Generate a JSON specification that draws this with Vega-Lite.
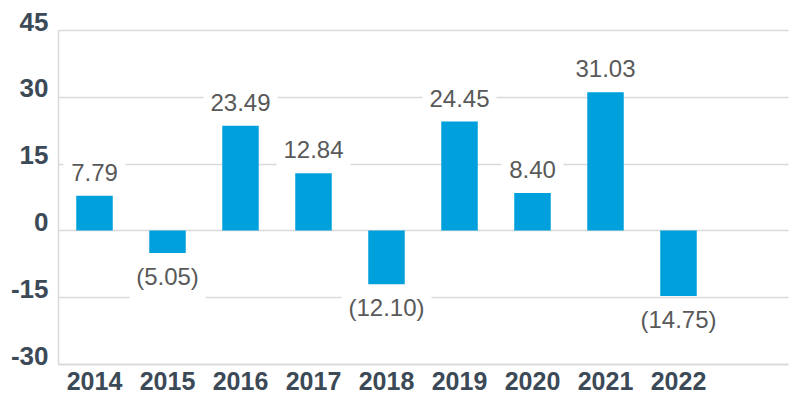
{
  "$schema": "https://vega.github.io/schema/vega-lite/v6.json",
  "autosize": "none",
  "width": 730,
  "height": 334,
  "padding": {"left": 58, "top": 30, "right": 12, "bottom": 36},
  "background": "white",
  "config": {"view": {"stroke": null}},
  "data": {
    "values": [
      {"year": "2014", "value": 7.79},
      {"year": "2015", "value": -5.05},
      {"year": "2016", "value": 23.49},
      {"year": "2017", "value": 12.84},
      {"year": "2018", "value": -12.10},
      {"year": "2019", "value": 24.45},
      {"year": "2020", "value": 8.40},
      {"year": "2021", "value": 31.03},
      {"year": "2022", "value": -14.75}
    ]
  },
  "transform": [
    {"calculate": "datum.value < 0 ? '(' + format(-datum.value, '.2f') + ')' : format(datum.value, '.2f')", "as": "label"}
  ],
  "encoding": {
    "x": {
      "field": "year",
      "type": "nominal",
      "scale": {
        "domain": ["2014", "2015", "2016", "2017", "2018", "2019", "2020", "2021", "2022", "2023"],
        "paddingInner": 0.5,
        "paddingOuter": 0.25
      },
      "axis": {
        "title": null,
        "labelAngle": 0,
        "ticks": false,
        "domainColor": "#D9D9D9",
        "domainWidth": 1.5,
        "labelFont": "Liberation Sans",
        "labelFontWeight": "bold",
        "labelFontSize": 25,
        "labelColor": "#3C4A57",
        "labelPadding": 5,
        "labelExpr": "datum.value == '2023' ? '' : datum.label"
      }
    },
    "y": {
      "field": "value",
      "type": "quantitative",
      "scale": {"domain": [-30, 45], "nice": false, "zero": false},
      "axis": {
        "title": null,
        "values": [-30, -15, 0, 15, 30, 45],
        "ticks": false,
        "grid": true,
        "gridColor": "#D9D9D9",
        "gridWidth": 1.5,
        "domainColor": "#D9D9D9",
        "domainWidth": 1.5,
        "labelFont": "Liberation Sans",
        "labelFontWeight": "bold",
        "labelFontSize": 26,
        "labelColor": "#3C4A57",
        "labelPadding": 10,
        "labelBaseline": "alphabetic",
        "labelExpr": "datum.value < 0 ? '-' + format(-datum.value, 'd') : format(datum.value, 'd')"
      }
    }
  },
  "layer": [
    {
      "transform": [{"filter": "datum.value > 0"}],
      "mark": {"type": "bar", "color": "white", "yOffset": -39, "y2Offset": -3},
      "encoding": {
        "y2": {"field": "value"},
        "size": {
          "condition": [
            {"test": "length(datum.label) >= 7", "value": 90},
            {"test": "length(datum.label) == 6", "value": 76},
            {"test": "length(datum.label) == 5", "value": 74}
          ],
          "value": 62
        }
      }
    },
    {
      "transform": [{"filter": "datum.value < 0"}],
      "mark": {"type": "bar", "color": "white", "yOffset": 8, "y2Offset": 46},
      "encoding": {
        "y2": {"field": "value"},
        "size": {
          "condition": [
            {"test": "length(datum.label) >= 7", "value": 90},
            {"test": "length(datum.label) == 6", "value": 76},
            {"test": "length(datum.label) == 5", "value": 74}
          ],
          "value": 62
        }
      }
    },
    {
      "mark": {"type": "bar", "color": "#00A0DC"},
      "encoding": {"y2": {"datum": 0}}
    },
    {
      "transform": [{"filter": "datum.value > 0"}],
      "mark": {"type": "text", "dy": -15, "baseline": "alphabetic", "font": "Liberation Sans", "fontSize": 24, "color": "#595959"},
      "encoding": {"text": {"field": "label"}}
    },
    {
      "transform": [{"filter": "datum.value < 0"}],
      "mark": {"type": "text", "dy": 32, "baseline": "alphabetic", "font": "Liberation Sans", "fontSize": 24, "color": "#595959"},
      "encoding": {"text": {"field": "label"}}
    }
  ]
}
